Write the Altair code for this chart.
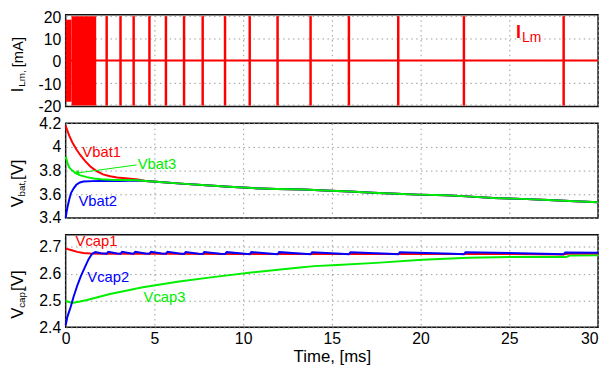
import altair as alt
import pandas as pd

FONT = "Liberation Sans"
RED = "#ff0000"
BLUE = "#0000ff"
GREEN = "#00ee00"

# ---------------- top panel: I_Lm [mA] ----------------
spike_t = [2.31, 3.09, 3.83, 4.72, 5.65, 6.67, 7.72, 8.98, 10.37, 11.94,
           13.8, 15.96, 18.74, 22.44, 28.06]
spike_lo = [-20.3, -20.3, -20.3, -20.3, -20.3, -20.3, -20.3, -20.3, -20.3, -20.3,
            -20.3, -20.3, -20.3, -20.3, -20.3]
spike_hi = [20.0, 20.0, 20.0, 20.0, 20.0, 20.0, 20.0, 20.0, 20.0, 20.0,
            20.0, 20.0, 20.0, 20.0, 20.0]
burst_t0 = [0.0, 0.33]
burst_t1 = [0.33, 1.72]
burst_lo = [-18.6, -20.3]
burst_hi = [18.4, 20.0]
zero_t = [0.0, 30.0]
zero_v = [0.0, 0.0]

# ---------------- middle panel: V_bat [V] ----------------
vbat1_t = [0, 0.1, 0.2, 0.37, 0.6, 0.83, 1.1, 1.39, 1.7, 2.1, 2.5, 2.9, 3.5, 4.07]
vbat1_v = [4.18, 4.135, 4.095, 4.04, 3.98, 3.93, 3.88, 3.835, 3.80, 3.768, 3.752, 3.742, 3.733, 3.726]
vbat2_t = [0, 0.05, 0.1, 0.2, 0.3, 0.45, 0.6, 0.8, 1.0, 1.5, 2.0, 3.0, 4.07]
vbat2_v = [3.40, 3.45, 3.49, 3.555, 3.61, 3.65, 3.68, 3.70, 3.708, 3.711, 3.712, 3.713, 3.716]
vbat3_t = [0, 0.1, 0.19, 0.3, 0.46, 0.65, 0.83, 1.2, 1.57, 2.0, 2.5, 3.0, 4.07]
vbat3_v = [3.92, 3.865, 3.83, 3.81, 3.79, 3.772, 3.76, 3.745, 3.733, 3.726, 3.722, 3.72, 3.718]
vbat_tail_t = [4.5, 5.3, 6.5, 7.9, 9.2, 10.5, 11.9, 13.4, 14.6, 16.0, 17.3, 18.65,
               19.85, 21.4, 22.6, 24.1, 25.7, 27.2, 28.4, 30.0]
vbat_tail_v = [3.712, 3.703, 3.69, 3.677, 3.664, 3.652, 3.645, 3.640, 3.632, 3.624,
               3.613, 3.605, 3.597, 3.591, 3.582, 3.568, 3.561, 3.552, 3.543, 3.532]

# ---------------- bottom panel: V_cap [V] ----------------
vcap1_t = [0, 0.3, 0.65, 1.0, 1.4, 2.0, 5.0, 10.0, 15.0, 20.0, 25.0, 28.0, 28.3, 30.0]
vcap1_v = [2.693, 2.688, 2.681, 2.677, 2.675, 2.674, 2.674, 2.673, 2.673, 2.673, 2.673, 2.671, 2.674, 2.674]
vcap2_t = [0, 0.1, 0.28, 0.45, 0.65, 0.85, 1.11, 1.3, 1.48, 1.67, 2.0,
           2.31, 2.4, 2.9, 3.09, 3.18, 3.7, 3.83, 3.92, 4.5, 4.72, 4.81, 5.4,
           5.65, 5.74, 6.4, 6.67, 6.76, 7.5, 7.72, 7.81, 8.7, 8.98, 9.07, 10.1,
           10.37, 10.46, 11.6, 11.94, 12.03, 13.4, 13.8, 13.89, 15.5, 15.96, 16.05,
           18.2, 18.74, 18.83, 21.8, 22.44, 22.53, 27.5, 28.06, 28.15, 30.0]
vcap2_v = [2.408, 2.44, 2.476, 2.515, 2.555, 2.59, 2.628, 2.655, 2.673, 2.680, 2.676,
           2.674, 2.681, 2.675, 2.674, 2.681, 2.675, 2.674, 2.681, 2.675, 2.674, 2.681, 2.675,
           2.674, 2.681, 2.675, 2.673, 2.680, 2.674, 2.673, 2.680, 2.674, 2.673, 2.680, 2.674,
           2.672, 2.680, 2.674, 2.672, 2.680, 2.674, 2.672, 2.680, 2.674, 2.672, 2.680,
           2.674, 2.672, 2.680, 2.674, 2.672, 2.680, 2.673, 2.672, 2.679, 2.678]
vcap3_t = [0, 0.37, 0.8, 1.2, 2.5, 4.35, 6.39, 8.4, 10.46, 13.06, 14.0, 15.3, 17.5,
           20.1, 22.7, 25.1, 28.2, 28.4, 30.0]
vcap3_v = [2.498, 2.491, 2.496, 2.502, 2.524, 2.549, 2.571, 2.588, 2.604, 2.622, 2.628,
           2.632, 2.640, 2.652, 2.659, 2.662, 2.662, 2.667, 2.668]

# annotations
bat_labels = ["Vbat1", "Vbat3", "Vbat2"]
bat_label_t = [0.94, 4.06, 0.72]
bat_label_v = [3.956, 3.856, 3.539]
bat_label_c = [RED, GREEN, BLUE]
arrow_t = [4.0, 0.61]
arrow_v = [3.848, 3.779]
cap_labels = ["Vcap1", "Vcap2", "Vcap3"]
cap_label_t = [0.56, 1.22, 4.39]
cap_label_v = [2.722, 2.586, 2.513]
cap_label_c = [RED, BLUE, GREEN]
lm_text = ["I", "Lm"]
lm_t = [25.37, 25.72]
lm_v = [10.1, 8.36]

W = 540
XDOM = [0, 30]
XGRID = [0, 5, 10, 15, 20, 25, 30]


def make_chart(title_pad, padding, diag=None):
    def xenc(bottom=False):
        if bottom:
            ax = alt.Axis(values=XGRID, grid=True, title="Time, [ms]", labelPadding=3,
                          titlePadding=title_pad, labelFontSize=16, titleFontSize=17,
                          labelAlign={"condition": {"test": "datum.value == 30",
                                                    "value": "right"},
                                      "value": "center"})
        else:
            ax = alt.Axis(values=XGRID, grid=True, labels=False, title=None)
        return alt.X("t:Q", scale=alt.Scale(domain=XDOM, nice=False, zero=False), axis=ax)

    def yenc(dom, vals, offset=0):
        return alt.Y("v:Q", scale=alt.Scale(domain=dom, nice=False, zero=False),
                     axis=alt.Axis(values=vals, grid=True, title=None, labelPadding=5,
                                   labelOffset=offset, labelExpr="'' + datum.value"))

    def ytitle(parts, ystart, x0=-43.5):
        layers = []
        for txt, fs, dx, dy in parts:
            layers.append(
                alt.Chart(pd.DataFrame({"s": [txt]}))
                .mark_text(angle=270, align="left", baseline="alphabetic", font=FONT,
                           fontSize=fs, dx=dx, dy=dy, color="black")
                .encode(x=alt.value(x0), y=alt.value(ystart), text="s:N")
            )
        return layers

    def line_layer(ts, vs, color, x, y, width=2):
        df = pd.DataFrame({"t": ts, "v": vs})
        return alt.Chart(df).mark_line(color=color, strokeWidth=width).encode(x=x, y=y)

    # ----- top -----
    xt = xenc()
    yt = yenc([-20.75, 20.6], [-20, -10, 0, 10, 20], offset=1.5)
    burst_df = pd.DataFrame({"t": burst_t0, "t2": burst_t1, "v": burst_lo, "v2": burst_hi})
    spike_df = pd.DataFrame({"t": spike_t, "v": spike_lo, "v2": spike_hi})
    burst = alt.Chart(burst_df).mark_rect(color=RED).encode(x=xt, x2="t2:Q", y=yt, y2="v2:Q")
    spikes = alt.Chart(spike_df).mark_rule(color=RED, strokeWidth=2.5).encode(
        x=xt, y=yt, y2="v2:Q")
    zero = line_layer(zero_t, zero_v, RED, xt, yt, 2)
    lm_df = pd.DataFrame({"t": lm_t[:1], "v": lm_v[:1], "s": lm_text[:1]})
    lm_df2 = pd.DataFrame({"t": lm_t[1:], "v": lm_v[1:], "s": lm_text[1:]})
    lm1 = alt.Chart(lm_df).mark_text(align="left", baseline="alphabetic", font=FONT,
                                     fontSize=18, fontWeight="bold", color=RED).encode(
        x=xt, y=yt, text="s:N")
    lm2 = alt.Chart(lm_df2).mark_text(align="left", baseline="alphabetic", font=FONT,
                                      fontSize=14, color=RED).encode(x=xt, y=yt, text="s:N")
    top = alt.layer(
        zero, burst, spikes, lm1, lm2,
        *ytitle([("I", 17, 0, 0), ("Lm,", 10, 5.5, 2), ("[mA]", 15, 25.2, 0)], 78.5)
    ).properties(width=W, height=93)

    # ----- middle -----
    xm = xenc()
    ym = yenc([3.4, 4.2], [3.4, 3.6, 3.8, 4.0, 4.2])
    mid_layers = [
        line_layer(vbat1_t + vbat_tail_t, vbat1_v + vbat_tail_v, RED, xm, ym),
        line_layer(vbat2_t + vbat_tail_t, vbat2_v + vbat_tail_v, BLUE, xm, ym),
        line_layer(vbat3_t + vbat_tail_t, vbat3_v + vbat_tail_v, GREEN, xm, ym),
    ]
    arrow_df = pd.DataFrame({"t": arrow_t, "v": arrow_v})
    mid_layers.append(alt.Chart(arrow_df).mark_line(color=GREEN, strokeWidth=1)
                      .encode(x=xm, y=ym))
    mid_layers.append(
        alt.Chart(arrow_df.iloc[1:]).mark_point(shape="triangle-left", filled=True, size=35,
                                                angle=352, color=GREEN, opacity=1)
        .encode(x=xm, y=ym))
    bat_df = pd.DataFrame({"t": bat_label_t, "v": bat_label_v, "s": bat_labels,
                           "c": bat_label_c})
    mid_layers.append(
        alt.Chart(bat_df).mark_text(align="left", baseline="middle", font=FONT, fontSize=15)
        .encode(x=xm, y=ym, text="s:N", color=alt.Color("c:N", scale=None)))
    middle = alt.layer(
        *mid_layers,
        *ytitle([("V", 17, 0, 0), ("bat,", 10, 11.0, 2), (" [V]", 17, 27.7, 0)], 85.2)
    ).properties(width=W, height=96)

    # ----- bottom -----
    xb = xenc(bottom=True)
    yb = yenc([2.4, 2.745], [2.4, 2.5, 2.6, 2.7])
    bot_layers = [
        line_layer(vcap1_t, vcap1_v, RED, xb, yb),
        line_layer(vcap3_t, vcap3_v, GREEN, xb, yb),
        line_layer(vcap2_t, vcap2_v, BLUE, xb, yb),
    ]
    cap_df = pd.DataFrame({"t": cap_label_t, "v": cap_label_v, "s": cap_labels,
                           "c": cap_label_c})
    bot_layers.append(
        alt.Chart(cap_df).mark_text(align="left", baseline="middle", font=FONT, fontSize=15)
        .encode(x=xb, y=yb, text="s:N", color=alt.Color("c:N", scale=None)))
    bottom = alt.layer(
        *bot_layers,
        *ytitle([("V", 17, 0, 0), ("cap,", 10, 11.0, 2), (" [V]", 17, 28.2, 0)], 85.2)
    ).properties(width=W, height=94)

    kw = {"padding": padding, "background": "white"}
    if diag:
        kw["title"] = diag
    return (
        alt.vconcat(top, middle, bottom, spacing=17, bounds="flush")
        .properties(**kw)
        .configure_view(stroke="#111111", strokeWidth=1.5)
        .configure_axis(gridColor="#9a9a9a", gridDash=[1.5, 3.5], gridWidth=1,
                        domain=False, ticks=False, labelFont=FONT, labelFontSize=16,
                        labelColor="black", titleFont=FONT, titleFontSize=17,
                        titleColor="black", titleFontWeight="normal")
    )


try:
    chart = make_chart(3, {"left": -0.5, "top": -1.65, "right": 0, "bottom": 0})
    chart.save("out.html", embed_options={"renderer": "svg", "actions": False})
except Exception:
    chart = make_chart(3, {"left": 0, "top": 0, "right": 0, "bottom": 0}, diag="FALLBACK")
    chart.save("out.html", embed_options={"renderer": "svg", "actions": False})
